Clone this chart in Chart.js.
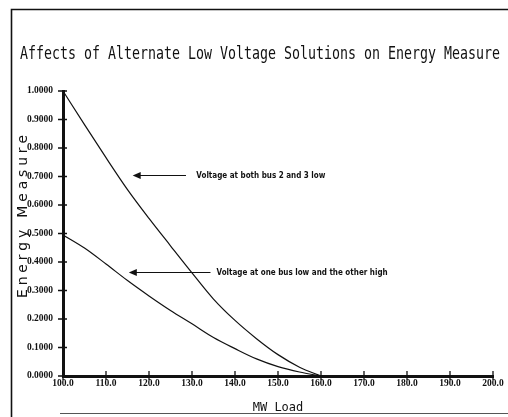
<!DOCTYPE html>
<html>
<head>
<meta charset="utf-8">
<script src="https://cdn.jsdelivr.net/npm/chart.js@4/dist/chart.umd.min.js"></script>
<style>
  html, body { margin: 0; padding: 0; background: #fff; }
  #wrap { position: relative; width: 508px; height: 417px; }
</style>
</head>
<body>
<div id="wrap"><canvas id="c" width="508" height="417"></canvas></div>
<script>
// ---- data ----
const chartTitle = "Affects of Alternate Low Voltage Solutions on Energy Measure";
const xAxisTitle = "MW Load";
const yAxisTitle = "Energy Measure";
const mwLoad  = [100, 105, 110, 115, 120, 125, 130, 135, 140, 145, 150, 155, 160];
const bothLow = [1.000, 0.882, 0.766, 0.654, 0.553, 0.457, 0.362, 0.270, 0.195, 0.131, 0.075, 0.031, 0.000];
const oneLow  = [0.495, 0.449, 0.393, 0.335, 0.281, 0.230, 0.183, 0.135, 0.096, 0.060, 0.033, 0.014, 0.000];
const seriesNames = ["Voltage at both bus 2 and 3 low", "Voltage at one bus low and the other high"];
const xTickValues = [100, 110, 120, 130, 140, 150, 160, 170, 180, 190, 200];
const yTickValues = [0, 0.1, 0.2, 0.3, 0.4, 0.5, 0.6, 0.7, 0.8, 0.9, 1.0];
// annotation anchors in data units: [arrow tip x, arrow tail x, text x, y]
const noteBoth = [116.2, 128.6, 131.0, 0.707];
const noteOne  = [115.3, 134.3, 135.7, 0.364];

const ink = '#111';

const framePlugin = {
  id: 'frame',
  beforeDraw(chart) {
    const ctx = chart.ctx;
    ctx.save();
    ctx.fillStyle = '#fff';
    ctx.fillRect(0, 0, chart.width, chart.height);
    ctx.strokeStyle = ink;
    ctx.lineWidth = 1.6;
    ctx.beginPath();
    ctx.moveTo(11.5, 417);
    ctx.lineTo(11.5, 9.5);
    ctx.lineTo(508, 9.5);
    ctx.stroke();
    ctx.strokeStyle = '#555';
    ctx.lineWidth = 1;
    ctx.beginPath();
    ctx.moveTo(60, 413.5);
    ctx.lineTo(508, 413.5);
    ctx.stroke();
    ctx.restore();
  }
};

const textPlugin = {
  id: 'texts',
  afterDraw(chart) {
    const ctx = chart.ctx;
    const xs = chart.scales.x, ys = chart.scales.y;
    ctx.save();
    ctx.fillStyle = ink;
    // title, fitted to its span
    ctx.font = "16px 'DejaVu Sans Mono'";
    ctx.textBaseline = 'alphabetic';
    ctx.textAlign = 'left';
    const tw = ctx.measureText(chartTitle).width;
    const sx = 480 / tw;
    ctx.save();
    ctx.translate(20, 58.5);
    ctx.scale(sx, 1.08);
    ctx.fillText(chartTitle, 0, 0);
    ctx.restore();

    // y axis title, letter-spaced
    ctx.save();
    ctx.font = "14px 'DejaVu Sans'";
    const chars = yAxisTitle.split('');
    const widths = chars.map(ch => ctx.measureText(ch).width);
    const natural = widths.reduce((a, b) => a + b, 0);
    const span = 163;
    const gap = (span - natural) / (chars.length - 1);
    ctx.translate(27, 298);
    ctx.rotate(-Math.PI / 2);
    ctx.textBaseline = 'alphabetic';
    let px = 0;
    chars.forEach((ch, i) => { ctx.fillText(ch, px, 0); px += widths[i] + gap; });
    ctx.restore();

    // inward/outward tick marks
    ctx.strokeStyle = ink;
    ctx.lineWidth = 1.3;
    const y0 = ys.getPixelForValue(0);
    const x0 = xs.getPixelForValue(100);
    ctx.beginPath();
    xTickValues.forEach(v => {
      const p = xs.getPixelForValue(v);
      ctx.moveTo(p, y0 - 5); ctx.lineTo(p, y0 + 4);
    });
    yTickValues.forEach(v => {
      const p = ys.getPixelForValue(v);
      ctx.moveTo(x0 - 5, p); ctx.lineTo(x0 + 4, p);
    });
    ctx.stroke();

    // annotations with arrows
    const notes = [[noteBoth, seriesNames[0]], [noteOne, seriesNames[1]]];
    ctx.font = "bold 8px 'DejaVu Sans Condensed', 'DejaVu Sans'";
    ctx.textBaseline = 'middle';
    notes.forEach(([n, label]) => {
      const tip = xs.getPixelForValue(n[0]);
      const tail = xs.getPixelForValue(n[1]);
      const tx = xs.getPixelForValue(n[2]);
      const y = Math.round(ys.getPixelForValue(n[3])) + 0.5;
      ctx.lineWidth = 1;
      ctx.beginPath();
      ctx.moveTo(tip + 6, y); ctx.lineTo(tail, y);
      ctx.stroke();
      ctx.beginPath();
      ctx.moveTo(tip, y);
      ctx.lineTo(tip + 8, y - 3.5);
      ctx.lineTo(tip + 8, y + 3.5);
      ctx.closePath();
      ctx.fill();
      ctx.fillText(label, tx, y);
    });
    ctx.restore();
  }
};

const tickFont = { family: "'Liberation Serif', serif", size: 9.5, weight: 'bold' };

new Chart(document.getElementById('c'), {
  type: 'line',
  data: {
    datasets: [
      { label: seriesNames[0], data: mwLoad.map((x, i) => ({ x, y: bothLow[i] })),
        borderColor: ink, borderWidth: 1.2, pointRadius: 0, cubicInterpolationMode: 'monotone', fill: false },
      { label: seriesNames[1], data: mwLoad.map((x, i) => ({ x, y: oneLow[i] })),
        borderColor: ink, borderWidth: 1.2, pointRadius: 0, cubicInterpolationMode: 'monotone', fill: false }
    ]
  },
  options: {
    responsive: false,
    animation: false,
    devicePixelRatio: 1,
    layout: { padding: { left: 14, right: 15, top: 91, bottom: 0 } },
    plugins: { legend: { display: false }, title: { display: false }, tooltip: { enabled: false } },
    scales: {
      x: {
        type: 'linear', min: 100, max: 200,
        afterFit(s) { s.height = 41; },
        afterBuildTicks(s) { s.ticks = xTickValues.map(v => ({ value: v })); },
        border: { display: true, color: ink, width: 3 },
        grid: { drawOnChartArea: false, drawTicks: false },
        ticks: { color: ink, font: tickFont, padding: 2, maxRotation: 0, autoSkip: false,
                 callback: v => v.toFixed(1) },
        title: { display: true, text: xAxisTitle, color: ink,
                 font: { family: "'DejaVu Sans Mono'", size: 12 }, padding: { top: 0, bottom: 2 } }
      },
      y: {
        type: 'linear', min: 0, max: 1,
        afterFit(s) { s.width = 49; },
        afterBuildTicks(s) { s.ticks = yTickValues.map(v => ({ value: v })); },
        border: { display: true, color: ink, width: 3 },
        grid: { drawOnChartArea: false, drawTicks: false },
        ticks: { color: ink, font: tickFont, padding: 10, autoSkip: false,
                 callback: v => v.toFixed(4) }
      }
    }
  },
  plugins: [framePlugin, textPlugin]
});
</script>
</body>
</html>
